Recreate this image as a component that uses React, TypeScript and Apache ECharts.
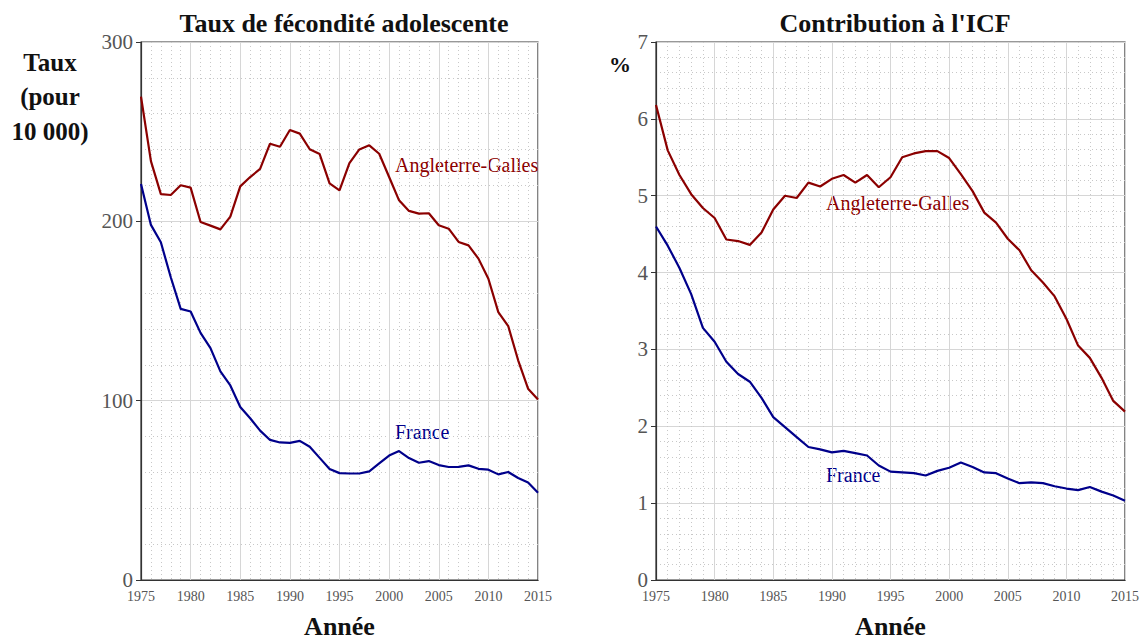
import React, { useEffect, useRef } from "react";
import * as echarts from "echarts";

const years: number[] = [];
for (let y = 1975; y <= 2015; y++) years.push(y);

const tauxAngleterre = [
  269.5, 233.6, 215.2, 214.7, 220.1, 218.8, 199.6, 197.6, 195.5, 202.6,
  219.5, 224.7, 229.2, 243.3, 241.6, 250.9, 248.9, 240.2, 237.5, 221.2,
  217.3, 232.5, 240.1, 242.4, 237.7, 224.7, 211.7, 205.8, 204.3, 204.5,
  197.8, 195.9, 188.5, 186.6, 179.2, 168.0, 149.4, 141.6, 122.5, 106.7, 100.7,
];
const tauxFrance = [
  220.8, 198.0, 188.3, 168.8, 151.2, 149.7, 137.8, 129.3, 116.3, 108.5,
  96.5, 90.2, 83.3, 78.1, 76.7, 76.5, 77.6, 74.3, 68.1, 61.9,
  59.6, 59.4, 59.4, 60.6, 65.0, 69.4, 71.9, 68.0, 65.4, 66.3,
  64.1, 63.0, 63.1, 63.9, 62.0, 61.5, 58.9, 60.2, 56.9, 54.4, 48.7,
];
const icfAngleterre = [
  6.18, 5.59, 5.27, 5.02, 4.84, 4.71, 4.43, 4.41, 4.36, 4.52,
  4.82, 5.0, 4.97, 5.17, 5.12, 5.22, 5.27, 5.17, 5.27, 5.11,
  5.24, 5.5, 5.55, 5.58, 5.58, 5.49, 5.28, 5.06, 4.78, 4.65,
  4.44, 4.29, 4.03, 3.87, 3.69, 3.4, 3.05, 2.89, 2.63, 2.33, 2.19,
];
const icfFrance = [
  4.6, 4.35, 4.06, 3.72, 3.28, 3.1, 2.84, 2.68, 2.58, 2.37,
  2.12, 1.99, 1.86, 1.73, 1.7, 1.66, 1.68, 1.65, 1.62, 1.49,
  1.41, 1.4, 1.39, 1.36, 1.42, 1.46, 1.53, 1.47, 1.4, 1.39,
  1.32, 1.26, 1.27, 1.26, 1.22, 1.19, 1.17, 1.21, 1.15, 1.1, 1.03,
];

const yTitleLines = ["Taux", "(pour", "10 000)"];

const FONT = "'Liberation Serif', 'DejaVu Serif', serif";
const RED = "#8b0000";
const BLUE = "#00008b";

function pairs(vals: number[]) {
  return years.map((y, i) => [y, vals[i]]);
}

export default function App() {
  const ref = useRef<HTMLDivElement>(null);
  useEffect(() => {
    if (!ref.current) return;
    const chart = echarts.init(ref.current, undefined, { renderer: "svg" });
    const xAxisBase = (gridIndex: number) => ({
      type: "value",
      gridIndex,
      min: 1975,
      max: 2015,
      interval: 5,
      axisLine: { show: true, onZero: false, lineStyle: { color: "#333", width: 1.2 } },
      axisTick: { show: false },
      axisLabel: {
        color: "#555",
        fontFamily: FONT,
        fontSize: 14,
        margin: 9,
        formatter: (v: number) => String(v),
      },
      splitLine: { show: true, lineStyle: { color: "#d6d6d6", width: 1 } },
      minorTick: { show: false, splitNumber: 5 },
      minorSplitLine: { show: true, lineStyle: { color: "#c8c8c8", width: 1, type: [1, 3] } },
      name: "Année",
      nameLocation: "middle",
      nameGap: 33,
      nameTextStyle: { color: "#111", fontFamily: FONT, fontSize: 26, fontWeight: "bold" },
    });
    const yAxisBase = (gridIndex: number, max: number, interval: number) => ({
      type: "value",
      gridIndex,
      min: 0,
      max,
      interval,
      axisLine: { show: true, lineStyle: { color: "#333", width: 1.2 } },
      axisTick: { show: true, length: 5, lineStyle: { color: "#333" } },
      axisLabel: { color: "#555", fontFamily: FONT, fontSize: 21, margin: 8 },
      splitLine: { show: true, lineStyle: { color: "#d6d6d6", width: 1 } },
      minorTick: { show: false, splitNumber: 5 },
      minorSplitLine: { show: true, lineStyle: { color: "#c8c8c8", width: 1, type: [1, 3] } },
    });
    const lineSeries = (name: string, data: number[], color: string, idx: number) => ({
      type: "line",
      name,
      xAxisIndex: idx,
      yAxisIndex: idx,
      data: pairs(data),
      symbol: "none",
      lineStyle: { color, width: 2.2 },
      itemStyle: { color },
    });
    const txt = (text: string, left: number, top: number, opts: any = {}) => ({
      type: "text",
      left,
      top,
      style: {
        text,
        fill: opts.fill || "#111",
        font: `${opts.weight || "normal"} ${opts.size || 18}px ${FONT}`,
      },
    });
    chart.setOption({
      animation: false,
      backgroundColor: "#fff",
      grid: [
        { left: 141, top: 42, width: 397, height: 538, outerBoundsMode: "none", containLabel: false, show: true, borderColor: "#333", borderWidth: 1.2, backgroundColor: "transparent" },
        { left: 656, top: 42, width: 469, height: 538, outerBoundsMode: "none", containLabel: false, show: true, borderColor: "#333", borderWidth: 1.2, backgroundColor: "transparent" },
      ],
      title: [
        { text: "Taux de fécondité adolescente", left: 339, top: 5, textAlign: "center", textStyle: { fontFamily: FONT, fontSize: 26, fontWeight: "bold", color: "#111" } },
        { text: "Contribution à l'ICF", left: 890, top: 5, textAlign: "center", textStyle: { fontFamily: FONT, fontSize: 26, fontWeight: "bold", color: "#111" } },
      ],
      xAxis: [xAxisBase(0), xAxisBase(1)],
      yAxis: [yAxisBase(0, 300, 100), yAxisBase(1, 7, 1)],
      series: [
        lineSeries("Angleterre-Galles", tauxAngleterre, RED, 0),
        lineSeries("France", tauxFrance, BLUE, 0),
        lineSeries("Angleterre-Galles", icfAngleterre, RED, 1),
        lineSeries("France", icfFrance, BLUE, 1),
      ],
      graphic: [
        ...yTitleLines.map((line, i) => ({
          type: "text",
          x: 50,
          y: 62 + i * 34.5,
          style: {
            text: line,
            fill: "#111",
            font: `bold 25px ${FONT}`,
            align: "center",
            verticalAlign: "middle",
          },
        })),
        txt("%", 609, 53, { weight: "bold", size: 22 }),
        txt("Angleterre-Galles", 395, 155, { fill: RED, size: 20 }),
        txt("France", 395, 422, { fill: BLUE, size: 20 }),
        txt("Angleterre-Galles", 826, 193, { fill: RED, size: 20 }),
        txt("France", 826, 465, { fill: BLUE, size: 20 }),
      ],
    });
    return () => chart.dispose();
  }, []);
  return (
    <div
      ref={ref}
      style={{ position: "fixed", left: 0, top: 0, width: 1147, height: 639 }}
    />
  );
}
